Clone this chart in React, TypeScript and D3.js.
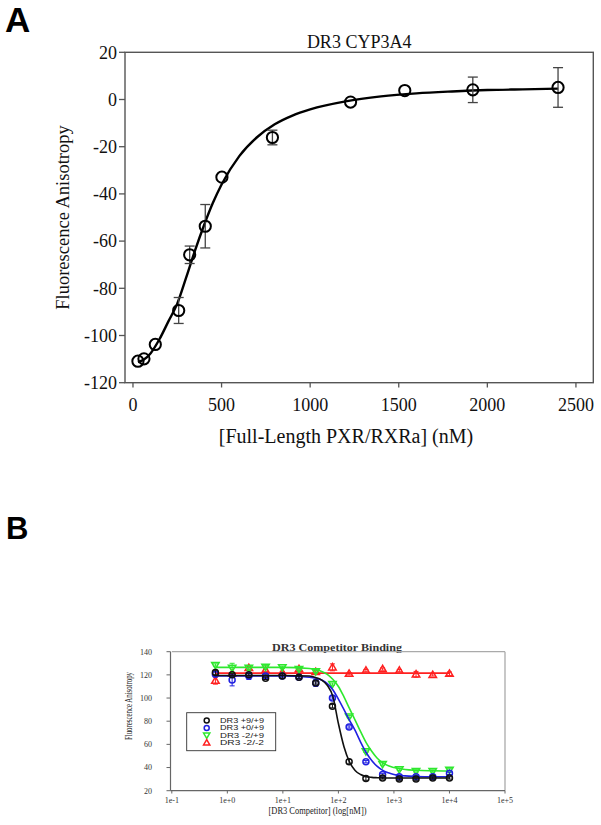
import React from "react";
import * as d3 from "d3";

// ---------- Panel A data ----------
const concA = [28, 62, 126, 258, 320, 408, 502, 787, 1228, 1534, 1918, 2399];
const anisoA = [-110.9, -109.9, -103.8, -89.4, -65.8, -53.7, -32.9, -16.1, -1.1, 3.8, 4.1, 5.1];
const errA = [0, 0, 0, 5.5, 3.7, 9.2, 0, 3.1, 0, 0, 5.4, 8.4];
const fitAx = [28, 60, 100, 150, 200, 250, 300, 350, 400, 450, 500, 600, 700, 800, 900, 1000, 1200, 1400, 1600, 1800, 2000, 2200, 2400];
const fitAy = [-111.3, -110.3, -107.5, -101.5, -94, -86.5, -75.5, -64, -53.5, -44, -36, -24, -16, -10.5, -6.8, -4.2, -0.8, 1.3, 2.6, 3.4, 4, 4.3, 4.6];
const ticksAx = [0, 500, 1000, 1500, 2000, 2500];
const ticksAy = [-120, -100, -80, -60, -40, -20, 0, 20];

// ---------- Panel B data ----------
const concB = [0.61, 1.22, 2.44, 4.88, 9.77, 19.5, 39.1, 78.1, 156, 313, 625, 1250, 2500, 5000, 10000];
const seriesNames = ["DR3 +9/+9", "DR3 +0/+9", "DR3 -2/+9", "DR3 -2/-2"];
const blackVals = [122, 120, 120, 117, 119, 118, 113, 93, 45, 30.5, 31, 30, 30, 31, 31];
const blueVals = [120.5, 115.5, 119, 119, 119, 118, 113, 100, 75, 45, 34, 32, 32, 32, 35];
const greenVals = [128.5, 126, 126, 127, 126.5, 125, 123, 112, 84, 54, 43, 38.5, 37, 37, 38];
const redVals = [115, 121, 126, 124, 122, 125, 122.5, 126.5, 121, 123.7, 125, 123.7, 120.5, 120, 121];
const blackErr = [2, 1, 1, 1, 2, 1, 1, 1.5, 2, 1.5, 1, 1, 1, 1, 1];
const blueErr = [2, 5, 3, 1, 1, 1, 3, 1, 1, 1, 1, 1, 1, 1, 1];
const greenErr = [1, 4, 2, 1, 1, 1, 1, 1, 1, 1, 1, 1, 1, 1, 1];
const redErr = [3, 1, 2, 1, 1, 1, 1, 3, 1, 1, 1, 1, 2.5, 1, 1.5];
const fitBx = [0.61, 10, 30, 40, 50, 63, 80, 100, 126, 158, 200, 251, 316, 398, 501, 631, 794, 1000, 1585, 2512, 5000, 10000];
const blackFit = [119.5, 119.5, 119, 117.5, 115.5, 111, 101, 78, 58, 45, 37.5, 34, 32.2, 31.5, 31.2, 31, 31, 31, 31, 31, 31, 31];
const blueFit = [119, 119, 118, 117, 115.5, 112.5, 107, 99, 90, 81, 72, 62, 53, 46, 41, 37.5, 35.5, 34, 32.8, 32.3, 32, 32];
const greenFit = [126.5, 126.5, 125.5, 124.5, 123, 120.5, 116, 110, 101, 91, 81, 71, 61.5, 54, 48, 44, 41.5, 40, 38.3, 37.6, 37.2, 37];
const redFit = [121.5, 121.5, 121.5, 121.5, 121.5, 121.5, 121.5, 121.5, 121.5, 121.5, 121.5, 121.5, 121.5, 121.5, 121.5, 121.5, 121.5, 121.5, 121.5, 121.5, 121.5, 121.5];
const ticksBx = [0.1, 1, 10, 100, 1000, 10000, 100000];
const ticksBxLabels = ["1e-1", "1e+0", "1e+1", "1e+2", "1e+3", "1e+4", "1e+5"];
const ticksBy = [20, 40, 60, 80, 100, 120, 140];

const colorsB = ["#111111", "#2020e0", "#2ee82e", "#ff2020"];
const shapesB = ["circle", "circle", "down", "up"];

function Marker({ shape, x, y, color, r }: { shape: string; x: number; y: number; color: string; r: number }) {
  if (shape === "circle") {
    return <circle cx={x} cy={y} r={r} fill="none" stroke={color} strokeWidth={1.5} />;
  }
  const s = r * 1.25;
  const pts =
    shape === "up"
      ? [[x, y - s], [x - s, y + s * 0.7], [x + s, y + s * 0.7]]
      : [[x, y + s], [x - s, y - s * 0.7], [x + s, y - s * 0.7]];
  return <polygon points={pts.map((p) => p.join(",")).join(" ")} fill="none" stroke={color} strokeWidth={1.5} />;
}

export default function App() {
  // Panel A scales
  const xA = d3.scaleLinear().domain([-45, 2598]).range([125, 593.3]);
  const yA = d3.scaleLinear().domain([-120, 20]).range([382.7, 52.3]);
  const lineA = d3
    .line<number>()
    .x((_, i) => xA(fitAx[i]))
    .y((d) => yA(d))
    .curve(d3.curveMonotoneX);

  // Panel B scales
  const xB = d3.scaleLog().domain([0.1, 100000]).range([171.8, 505]);
  const yB = d3.scaleLinear().domain([20, 140]).range([790.7, 651.7]);
  const lineB = d3
    .line<number>()
    .x((_, i) => xB(fitBx[i]))
    .y((d) => yB(d))
    .curve(d3.curveMonotoneX);

  const valsB = [blackVals, blueVals, greenVals, redVals];
  const errsB = [blackErr, blueErr, greenErr, redErr];
  const fitsB = [blackFit, blueFit, greenFit, redFit];
  const drawOrder = [3, 2, 1, 0];

  const serif = "'Liberation Serif', 'Times New Roman', serif";
  const sans = "'Liberation Sans', Arial, sans-serif";

  return (
    <svg width={601} height={825} style={{ position: "absolute", left: 0, top: 0, background: "#fff" }}>
      <rect x={0} y={0} width={601} height={825} fill="#fff" />
      {/* Panel letters */}
      <text x={5} y={32} fontFamily={sans} fontWeight="bold" fontSize={35} fill="#000">A</text>
      <text x={6} y={539} fontFamily={sans} fontWeight="bold" fontSize={31} fill="#000">B</text>

      {/* ---------- Panel A ---------- */}
      <text x={(125 + 593.3) / 2} y={48} textAnchor="middle" fontFamily={serif} fontSize={18} fill="#111">DR3 CYP3A4</text>
      <rect x={125} y={52.3} width={593.3 - 125} height={382.7 - 52.3} fill="none" stroke="#555" strokeWidth={1.4} />
      {ticksAy.map((t) => (
        <g key={"ay" + t}>
          <line x1={119} x2={125} y1={yA(t)} y2={yA(t)} stroke="#555" strokeWidth={1.3} />
          <text x={117} y={yA(t)} dy="0.35em" textAnchor="end" fontFamily={serif} fontSize={18} fill="#111">{t}</text>
        </g>
      ))}
      {ticksAx.map((t) => (
        <g key={"ax" + t}>
          <line x1={xA(t)} x2={xA(t)} y1={382.7} y2={387.5} stroke="#555" strokeWidth={1.3} />
          <text x={xA(t)} y={411} textAnchor="middle" fontFamily={serif} fontSize={18} fill="#111">{t}</text>
        </g>
      ))}
      <text
        transform={`translate(69,217.5) rotate(-90)`}
        textAnchor="middle"
        fontFamily={serif}
        fontSize={18.5}
        fill="#111"
      >
        Fluorescence Anisotropy
      </text>
      <text x={346} y={443} textAnchor="middle" fontFamily={serif} fontSize={20} fill="#111">
        [Full-Length PXR/RXRa] (nM)
      </text>
      <path d={lineA(fitAy) || ""} fill="none" stroke="#000" strokeWidth={2.4} />
      {concA.map((c, i) =>
        errA[i] > 0 ? (
          <g key={"ea" + i} stroke="#444" strokeWidth={1.3}>
            <line x1={xA(c)} x2={xA(c)} y1={yA(anisoA[i] - errA[i])} y2={yA(anisoA[i] + errA[i])} />
            <line x1={xA(c) - 5} x2={xA(c) + 5} y1={yA(anisoA[i] - errA[i])} y2={yA(anisoA[i] - errA[i])} />
            <line x1={xA(c) - 5} x2={xA(c) + 5} y1={yA(anisoA[i] + errA[i])} y2={yA(anisoA[i] + errA[i])} />
          </g>
        ) : null
      )}
      {concA.map((c, i) => (
        <circle key={"pa" + i} cx={xA(c)} cy={yA(anisoA[i])} r={5.6} fill="none" stroke="#000" strokeWidth={2} />
      ))}

      {/* ---------- Panel B ---------- */}
      <text x={337} y={651} textAnchor="middle" fontFamily={serif} fontWeight="bold" fontSize={11} textLength={130} lengthAdjust="spacingAndGlyphs" fill="#333">
        DR3 Competitor Binding
      </text>
      <line x1={171.8} x2={505} y1={651.7} y2={651.7} stroke="#aaa" strokeWidth={1.3} />
      <line x1={505} x2={505} y1={651.7} y2={790.7} stroke="#aaa" strokeWidth={1.3} />
      <line x1={170.5} x2={170.5} y1={651.7} y2={790.7} stroke="#666" strokeWidth={1.2} />
      <line x1={170.5} x2={505} y1={790.7} y2={790.7} stroke="#666" strokeWidth={1.2} />
      {ticksBy.map((t) => (
        <g key={"by" + t}>
          <line x1={166.5} x2={170.5} y1={yB(t)} y2={yB(t)} stroke="#666" strokeWidth={1} />
          <text x={152} y={yB(t)} dy="0.35em" textAnchor="end" fontFamily={serif} fontSize={8} fill="#333">{t}</text>
        </g>
      ))}
      {ticksBx.map((t, i) => (
        <g key={"bx" + t}>
          <line x1={xB(t)} x2={xB(t)} y1={790.7} y2={793.5} stroke="#666" strokeWidth={1} />
          <text x={xB(t)} y={803} textAnchor="middle" fontFamily={serif} fontSize={8} fill="#333">{ticksBxLabels[i]}</text>
        </g>
      ))}
      <text
        transform={`translate(132,706) rotate(-90)`}
        textAnchor="middle"
        fontFamily={serif}
        fontSize={10}
        textLength={68}
        lengthAdjust="spacingAndGlyphs"
        fill="#222"
      >
        Fluorescence Anisotropy
      </text>
      <text x={317.5} y={814} textAnchor="middle" fontFamily={serif} fontSize={10} textLength={98} lengthAdjust="spacingAndGlyphs" fill="#222">
        [DR3 Competitor] (log[nM])
      </text>

      {drawOrder.map((s) => (
        <g key={"sb" + s}>
          <path d={lineB(fitsB[s]) || ""} fill="none" stroke={colorsB[s]} strokeWidth={1.6} />
          {concB.map((c, i) => (
            <g key={i}>
              <g stroke={colorsB[s]} strokeWidth={1}>
                <line x1={xB(c)} x2={xB(c)} y1={yB(valsB[s][i] - errsB[s][i])} y2={yB(valsB[s][i] + errsB[s][i])} />
                <line x1={xB(c) - 2.5} x2={xB(c) + 2.5} y1={yB(valsB[s][i] - errsB[s][i])} y2={yB(valsB[s][i] - errsB[s][i])} />
                <line x1={xB(c) - 2.5} x2={xB(c) + 2.5} y1={yB(valsB[s][i] + errsB[s][i])} y2={yB(valsB[s][i] + errsB[s][i])} />
              </g>
              <Marker shape={shapesB[s]} x={xB(c)} y={yB(valsB[s][i])} color={colorsB[s]} r={3} />
            </g>
          ))}
        </g>
      ))}

      {/* Legend */}
      <rect x={186.7} y={712.7} width={89} height={38} fill="#fff" stroke="#333" strokeWidth={0.9} />
      {seriesNames.map((n, i) => {
        const ly = 720.5 + i * 7.4;
        return (
          <g key={"lg" + i}>
            <Marker shape={shapesB[i]} x={206.7} y={ly} color={colorsB[i]} r={2.5} />
            <text x={220} y={ly} dy="0.35em" fontFamily={sans} fontSize={6.3} textLength={44} lengthAdjust="spacingAndGlyphs" fill="#222">{n}</text>
          </g>
        );
      })}
    </svg>
  );
}
